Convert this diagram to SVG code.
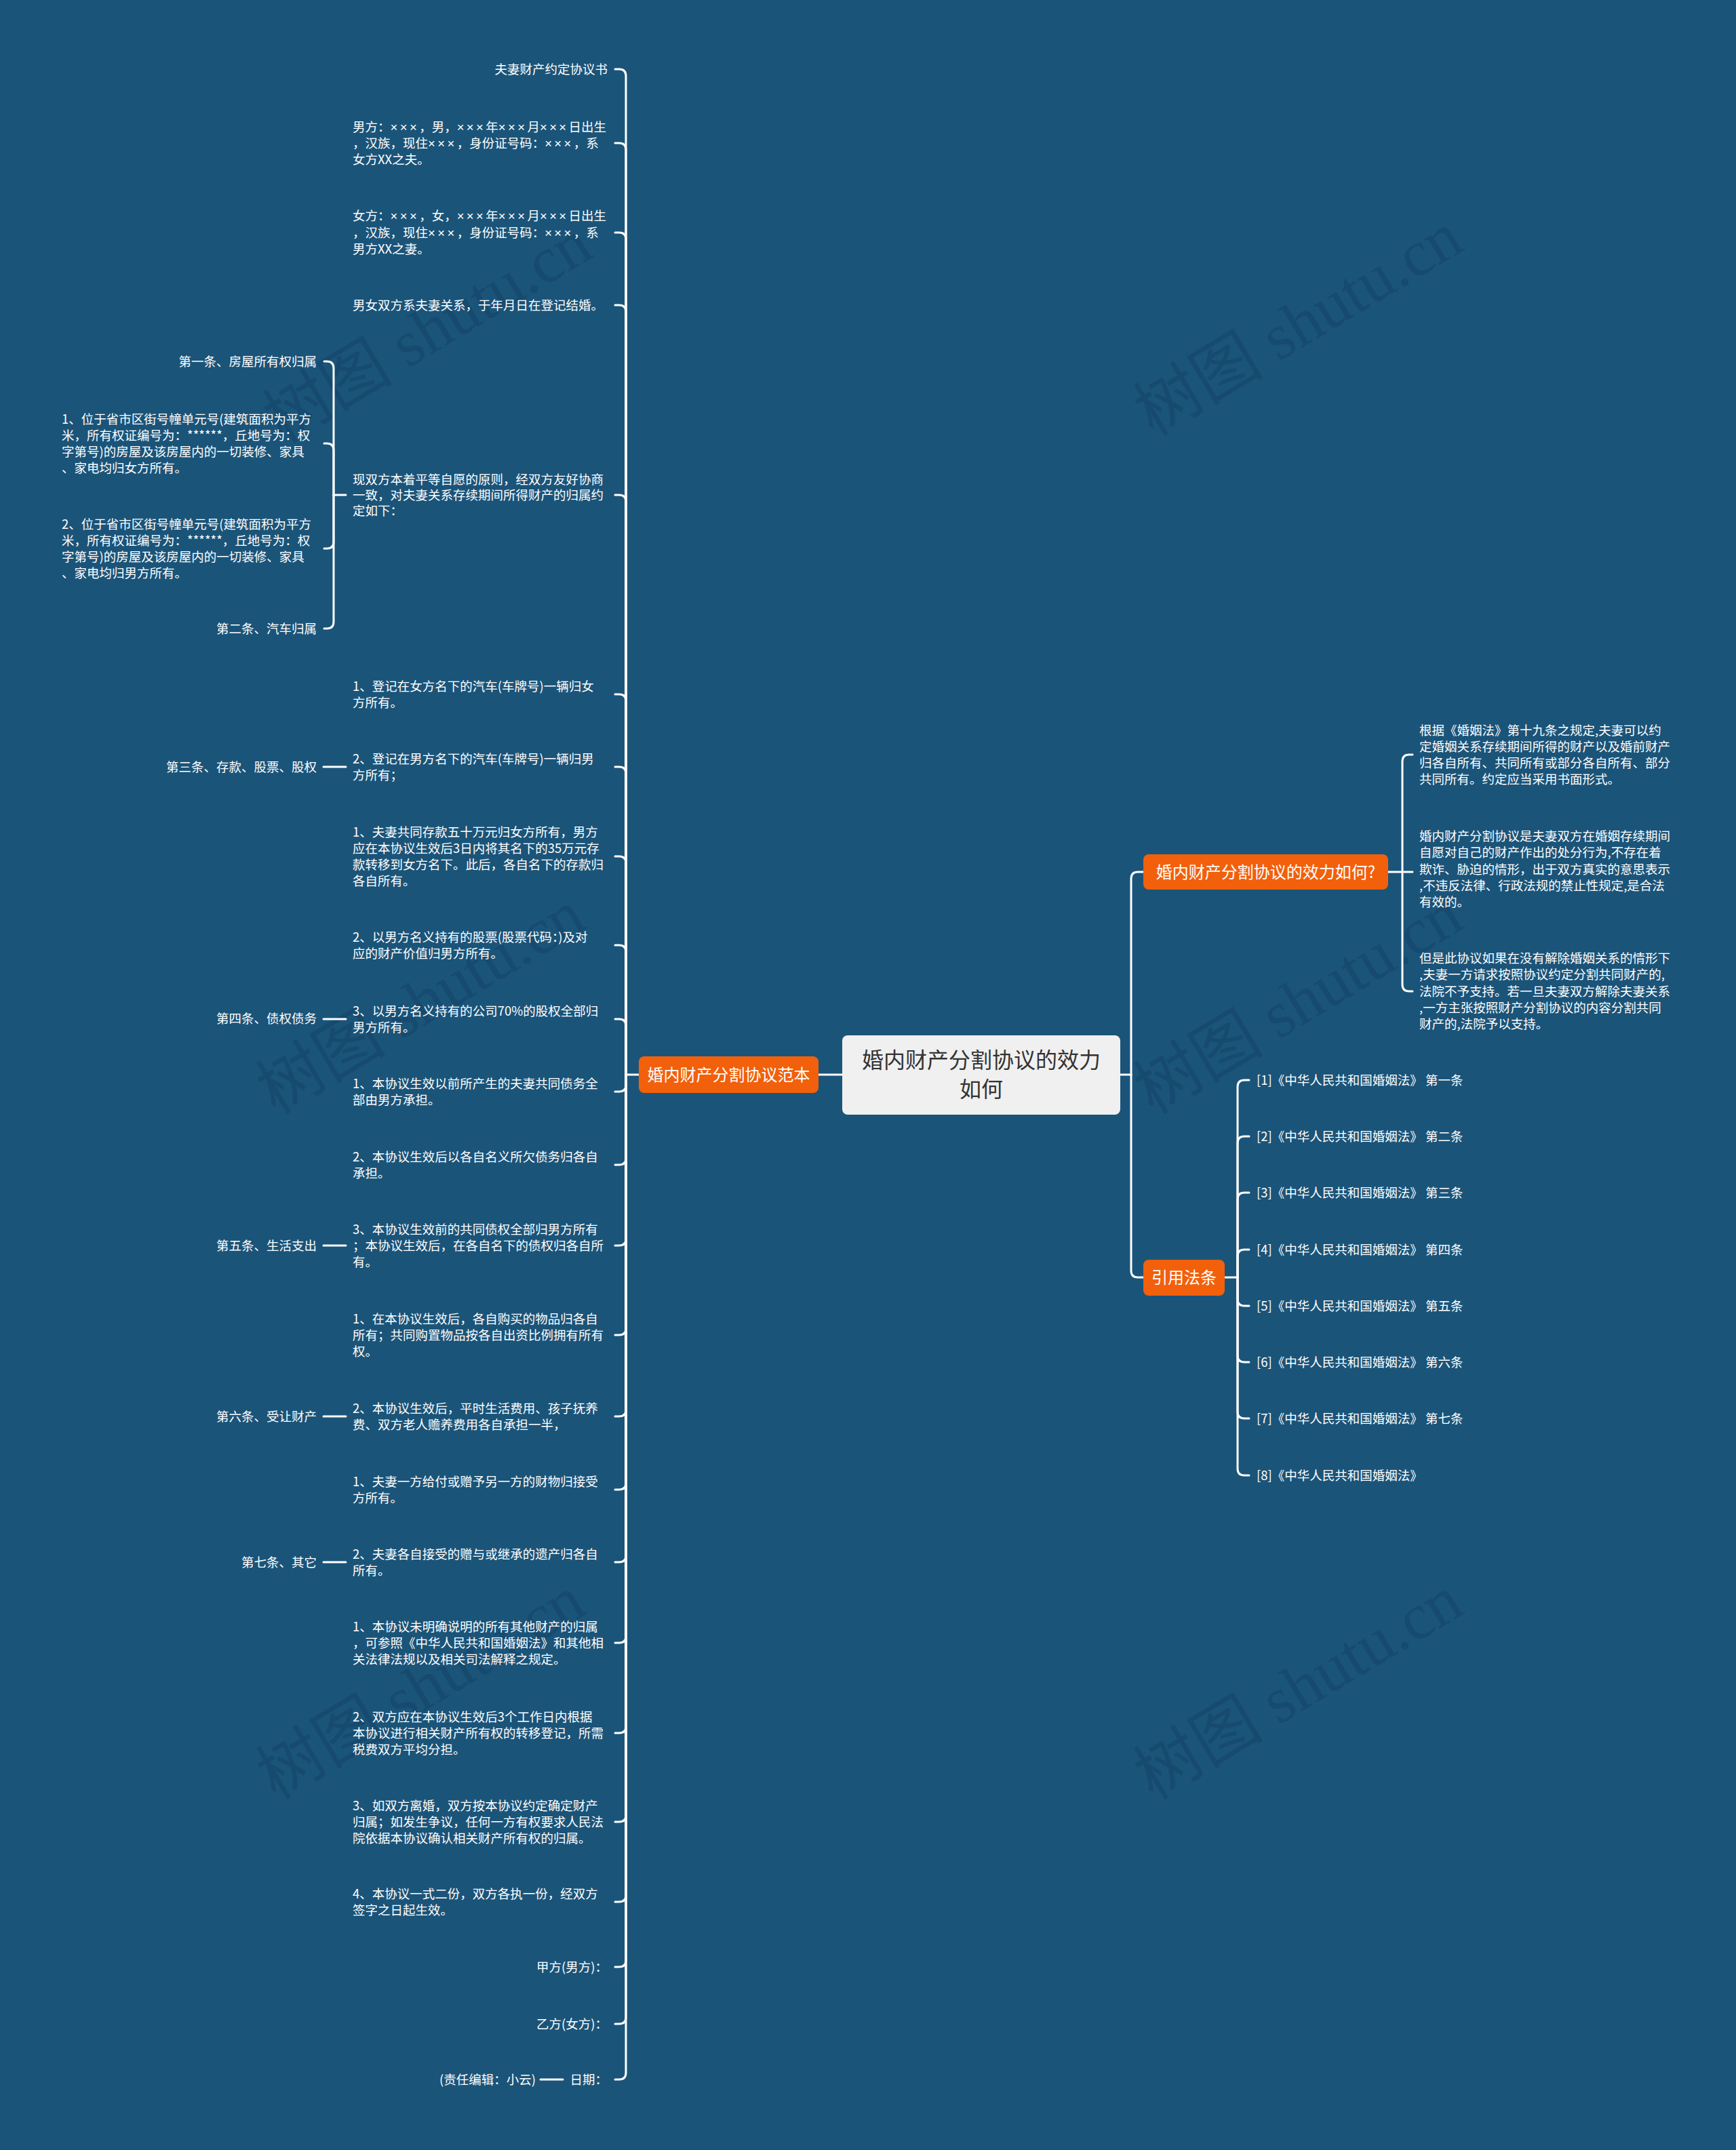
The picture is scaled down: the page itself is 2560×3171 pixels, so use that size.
<svg xmlns="http://www.w3.org/2000/svg" width="2560" height="3171" viewBox="0 0 2560 3171">
<style>
.t{font-family:"Noto Sans CJK SC","Liberation Sans",sans-serif;font-size:18.5px;fill:#ffffff}
.xx{font-family:"Liberation Sans","Noto Sans CJK SC",sans-serif;letter-spacing:3.4px}
.e{text-anchor:end}
.c{fill:none;stroke:#ffffff;stroke-width:3;stroke-linecap:round;stroke-linejoin:round}
.org{fill:#f2600c}
.ot{font-family:"Noto Sans CJK SC","Liberation Sans",sans-serif;font-size:24px;fill:#ffffff;text-anchor:middle}
.wm{font-family:"Liberation Serif","Noto Sans CJK SC",serif;font-size:96px;fill:#123f62;opacity:0.45;text-anchor:middle}
</style>
<rect width="2560" height="3171" fill="#1b5479"/>
<g id="watermark">
<text class="wm" transform="translate(647 516) rotate(-31)">树图 shutu.cn</text>
<text class="wm" transform="translate(1931 506) rotate(-31)">树图 shutu.cn</text>
<text class="wm" transform="translate(637 1506) rotate(-31)">树图 shutu.cn</text>
<text class="wm" transform="translate(1931 1506) rotate(-31)">树图 shutu.cn</text>
<text class="wm" transform="translate(637 2517) rotate(-31)">树图 shutu.cn</text>
<text class="wm" transform="translate(1931 2517) rotate(-31)">树图 shutu.cn</text>
</g>
<g id="connectors" class="c">
<path d="M1242 1585H1206"/>
<path d="M942 1585H923"/>
<path d="M907 102H913Q923 102 923 112V1585"/>
<path d="M907 211H913Q923 211 923 221V1585"/>
<path d="M907 343H913Q923 343 923 353V1585"/>
<path d="M907 450H913Q923 450 923 460V1585"/>
<path d="M907 730H913Q923 730 923 740V1585"/>
<path d="M907 1024H913Q923 1024 923 1034V1585"/>
<path d="M907 1131H913Q923 1131 923 1141V1585"/>
<path d="M907 1263H913Q923 1263 923 1273V1585"/>
<path d="M907 1394H913Q923 1394 923 1404V1585"/>
<path d="M907 1503H913Q923 1503 923 1513V1585"/>
<path d="M907 1610H913Q923 1610 923 1600V1585"/>
<path d="M907 1718H913Q923 1718 923 1708V1585"/>
<path d="M907 1837H913Q923 1837 923 1827V1585"/>
<path d="M907 1969H913Q923 1969 923 1959V1585"/>
<path d="M907 2089H913Q923 2089 923 2079V1585"/>
<path d="M907 2197H913Q923 2197 923 2187V1585"/>
<path d="M907 2304H913Q923 2304 923 2294V1585"/>
<path d="M907 2423H913Q923 2423 923 2413V1585"/>
<path d="M907 2556H913Q923 2556 923 2546V1585"/>
<path d="M907 2687H913Q923 2687 923 2677V1585"/>
<path d="M907 2805H913Q923 2805 923 2795V1585"/>
<path d="M907 2901H913Q923 2901 923 2891V1585"/>
<path d="M907 2985H913Q923 2985 923 2975V1585"/>
<path d="M907 3067H913Q923 3067 923 3057V1585"/>
<path d="M510 730H492"/>
<path d="M478 533H482Q492 533 492 543V730"/>
<path d="M478 654H482Q492 654 492 664V730"/>
<path d="M478 809H482Q492 809 492 799V730"/>
<path d="M478 927H482Q492 927 492 917V730"/>
<path d="M510 1131H477"/>
<path d="M510 1503H477"/>
<path d="M510 1837H477"/>
<path d="M510 2089H477"/>
<path d="M510 2304H477"/>
<path d="M830 3067H797"/>
<path d="M1652 1585H1668"/>
<path d="M1686 1286H1678Q1668 1286 1668 1296V1585"/>
<path d="M1686 1884H1678Q1668 1884 1668 1874V1585"/>
<path d="M2047 1286H2068"/>
<path d="M2083 1113H2078Q2068 1113 2068 1123V1286"/>
<path d="M2083 1286H2068"/>
<path d="M2083 1462H2078Q2068 1462 2068 1452V1286"/>
<path d="M1806 1884H1825"/>
<path d="M1842 1593H1835Q1825 1593 1825 1603V1884"/>
<path d="M1842 1676H1835Q1825 1676 1825 1686V1884"/>
<path d="M1842 1759H1835Q1825 1759 1825 1769V1884"/>
<path d="M1842 1843H1835Q1825 1843 1825 1853V1884"/>
<path d="M1842 1926H1835Q1825 1926 1825 1916V1884"/>
<path d="M1842 2009H1835Q1825 2009 1825 1999V1884"/>
<path d="M1842 2092H1835Q1825 2092 1825 2082V1884"/>
<path d="M1842 2176H1835Q1825 2176 1825 2166V1884"/>
</g>
<g id="center">
<rect x="1242" y="1527" width="410" height="117" rx="8" fill="#f0f0f0"/>
<text font-family="Noto Sans CJK SC, Liberation Sans, sans-serif" font-size="32" fill="#333333" text-anchor="middle"><tspan x="1447" y="1574.5">婚内财产分割协议的效力</tspan><tspan x="1447" y="1617.5">如何</tspan></text>
</g>
<g id="n-fanben">
<rect class="org" x="942" y="1558" width="265" height="54" rx="8"/>
<text class="ot" x="1074.5" y="1593.6">婚内财产分割协议范本</text>
</g>
<g id="n-xiaoli">
<rect class="org" x="1686" y="1260" width="361" height="52" rx="8"/>
<text class="ot" x="1866.5" y="1294.6">婚内财产分割协议的效力如何?</text>
</g>
<g id="n-yinyong">
<rect class="org" x="1686" y="1858" width="120" height="53" rx="8"/>
<text class="ot" x="1746" y="1893">引用法条</text>
</g>
<g id="left-leaves" class="t">
<text id="l1" class="e" x="896" y="109">夫妻财产约定协议书</text>
<text id="l2"><tspan x="520" y="194">男方：<tspan class="xx">×××</tspan>，男，<tspan class="xx">×××</tspan>年<tspan class="xx">×××</tspan>月<tspan class="xx">×××</tspan>日出生</tspan><tspan x="520" y="218">，汉族，现住<tspan class="xx">×××</tspan>，身份证号码：<tspan class="xx">×××</tspan>，系</tspan><tspan x="520" y="242">女方XX之夫。</tspan></text>
<text id="l3"><tspan x="520" y="325">女方：<tspan class="xx">×××</tspan>，女，<tspan class="xx">×××</tspan>年<tspan class="xx">×××</tspan>月<tspan class="xx">×××</tspan>日出生</tspan><tspan x="520" y="350">，汉族，现住<tspan class="xx">×××</tspan>，身份证号码：<tspan class="xx">×××</tspan>，系</tspan><tspan x="520" y="374">男方XX之妻。</tspan></text>
<text id="l4" x="520" y="457">男女双方系夫妻关系，于年月日在登记结婚。</text>
<text id="l5"><tspan x="520" y="714">现双方本着平等自愿的原则，经双方友好协商</tspan><tspan x="520" y="737">一致，对夫妻关系存续期间所得财产的归属约</tspan><tspan x="520" y="760">定如下：</tspan></text>
<text id="l5a" class="e" x="467" y="540">第一条、房屋所有权归属</text>
<text id="l5b"><tspan x="91" y="625">1、位于省市区街号幢单元号(建筑面积为平方</tspan><tspan x="91" y="649">米，所有权证编号为：******，丘地号为：权</tspan><tspan x="91" y="673">字第号)的房屋及该房屋内的一切装修、家具</tspan><tspan x="91" y="697">、家电均归女方所有。</tspan></text>
<text id="l5c"><tspan x="91" y="780">2、位于省市区街号幢单元号(建筑面积为平方</tspan><tspan x="91" y="804">米，所有权证编号为：******，丘地号为：权</tspan><tspan x="91" y="828">字第号)的房屋及该房屋内的一切装修、家具</tspan><tspan x="91" y="852">、家电均归男方所有。</tspan></text>
<text id="l5d" class="e" x="467" y="934">第二条、汽车归属</text>
<text id="l6"><tspan x="520" y="1019">1、登记在女方名下的汽车(车牌号)一辆归女</tspan><tspan x="520" y="1043">方所有。</tspan></text>
<text id="l7"><tspan x="520" y="1126">2、登记在男方名下的汽车(车牌号)一辆归男</tspan><tspan x="520" y="1150">方所有；</tspan></text>
<text id="l7a" class="e" x="467" y="1138">第三条、存款、股票、股权</text>
<text id="l8"><tspan x="520" y="1234">1、夫妻共同存款五十万元归女方所有，男方</tspan><tspan x="520" y="1258">应在本协议生效后3日内将其名下的35万元存</tspan><tspan x="520" y="1282">款转移到女方名下。此后，各自名下的存款归</tspan><tspan x="520" y="1306">各自所有。</tspan></text>
<text id="l9"><tspan x="520" y="1389">2、以男方名义持有的股票(股票代码：)及对</tspan><tspan x="520" y="1413">应的财产价值归男方所有。</tspan></text>
<text id="l10"><tspan x="520" y="1498">3、以男方名义持有的公司70%的股权全部归</tspan><tspan x="520" y="1522">男方所有。</tspan></text>
<text id="l10a" class="e" x="467" y="1509">第四条、债权债务</text>
<text id="l11"><tspan x="520" y="1605">1、本协议生效以前所产生的夫妻共同债务全</tspan><tspan x="520" y="1629">部由男方承担。</tspan></text>
<text id="l12"><tspan x="520" y="1713">2、本协议生效后以各自名义所欠债务归各自</tspan><tspan x="520" y="1737">承担。</tspan></text>
<text id="l13"><tspan x="520" y="1820">3、本协议生效前的共同债权全部归男方所有</tspan><tspan x="520" y="1844">；本协议生效后，在各自名下的债权归各自所</tspan><tspan x="520" y="1868">有。</tspan></text>
<text id="l13a" class="e" x="467" y="1844">第五条、生活支出</text>
<text id="l14"><tspan x="520" y="1952">1、在本协议生效后，各自购买的物品归各自</tspan><tspan x="520" y="1976">所有；共同购置物品按各自出资比例拥有所有</tspan><tspan x="520" y="2000">权。</tspan></text>
<text id="l15"><tspan x="520" y="2084">2、本协议生效后，平时生活费用、孩子抚养</tspan><tspan x="520" y="2108">费、双方老人赡养费用各自承担一半，</tspan></text>
<text id="l15a" class="e" x="467" y="2096">第六条、受让财产</text>
<text id="l16"><tspan x="520" y="2192">1、夫妻一方给付或赠予另一方的财物归接受</tspan><tspan x="520" y="2216">方所有。</tspan></text>
<text id="l17"><tspan x="520" y="2299">2、夫妻各自接受的赠与或继承的遗产归各自</tspan><tspan x="520" y="2323">所有。</tspan></text>
<text id="l17a" class="e" x="467" y="2311">第七条、其它</text>
<text id="l18"><tspan x="520" y="2406">1、本协议未明确说明的所有其他财产的归属</tspan><tspan x="520" y="2430">，可参照《中华人民共和国婚姻法》和其他相</tspan><tspan x="520" y="2454">关法律法规以及相关司法解释之规定。</tspan></text>
<text id="l19"><tspan x="520" y="2539">2、双方应在本协议生效后3个工作日内根据</tspan><tspan x="520" y="2563">本协议进行相关财产所有权的转移登记，所需</tspan><tspan x="520" y="2587">税费双方平均分担。</tspan></text>
<text id="l20"><tspan x="520" y="2670">3、如双方离婚，双方按本协议约定确定财产</tspan><tspan x="520" y="2694">归属；如发生争议，任何一方有权要求人民法</tspan><tspan x="520" y="2718">院依据本协议确认相关财产所有权的归属。</tspan></text>
<text id="l21"><tspan x="520" y="2800">4、本协议一式二份，双方各执一份，经双方</tspan><tspan x="520" y="2824">签字之日起生效。</tspan></text>
<text id="l22" class="e" x="896" y="2908">甲方(男方)：</text>
<text id="l23" class="e" x="896" y="2992">乙方(女方)：</text>
<text id="l24" class="e" x="896" y="3074">日期：</text>
<text id="l24a" class="e" x="790" y="3074">(责任编辑：小云)</text>
</g>
<g id="right-leaves" class="t">
<text id="r1"><tspan x="2093" y="1084">根据《婚姻法》第十九条之规定,夫妻可以约</tspan><tspan x="2093" y="1108">定婚姻关系存续期间所得的财产以及婚前财产</tspan><tspan x="2093" y="1132">归各自所有、共同所有或部分各自所有、部分</tspan><tspan x="2093" y="1156">共同所有。约定应当采用书面形式。</tspan></text>
<text id="r2"><tspan x="2093" y="1240">婚内财产分割协议是夫妻双方在婚姻存续期间</tspan><tspan x="2093" y="1264">自愿对自己的财产作出的处分行为,不存在着</tspan><tspan x="2093" y="1289">欺诈、胁迫的情形，出于双方真实的意思表示</tspan><tspan x="2093" y="1313">,不违反法律、行政法规的禁止性规定,是合法</tspan><tspan x="2093" y="1337">有效的。</tspan></text>
<text id="r3"><tspan x="2093" y="1420">但是此协议如果在没有解除婚姻关系的情形下</tspan><tspan x="2093" y="1444">,夫妻一方请求按照协议约定分割共同财产的,</tspan><tspan x="2093" y="1469">法院不予支持。若一旦夫妻双方解除夫妻关系</tspan><tspan x="2093" y="1493">,一方主张按照财产分割协议的内容分割共同</tspan><tspan x="2093" y="1517">财产的,法院予以支持。</tspan></text>
<text id="ref1" x="1853" y="1600">[1]《中华人民共和国婚姻法》 第一条</text>
<text id="ref2" x="1853" y="1683">[2]《中华人民共和国婚姻法》 第二条</text>
<text id="ref3" x="1853" y="1766">[3]《中华人民共和国婚姻法》 第三条</text>
<text id="ref4" x="1853" y="1850">[4]《中华人民共和国婚姻法》 第四条</text>
<text id="ref5" x="1853" y="1933">[5]《中华人民共和国婚姻法》 第五条</text>
<text id="ref6" x="1853" y="2016">[6]《中华人民共和国婚姻法》 第六条</text>
<text id="ref7" x="1853" y="2099">[7]《中华人民共和国婚姻法》 第七条</text>
<text id="ref8" x="1853" y="2183">[8]《中华人民共和国婚姻法》</text>
</g>
</svg>
